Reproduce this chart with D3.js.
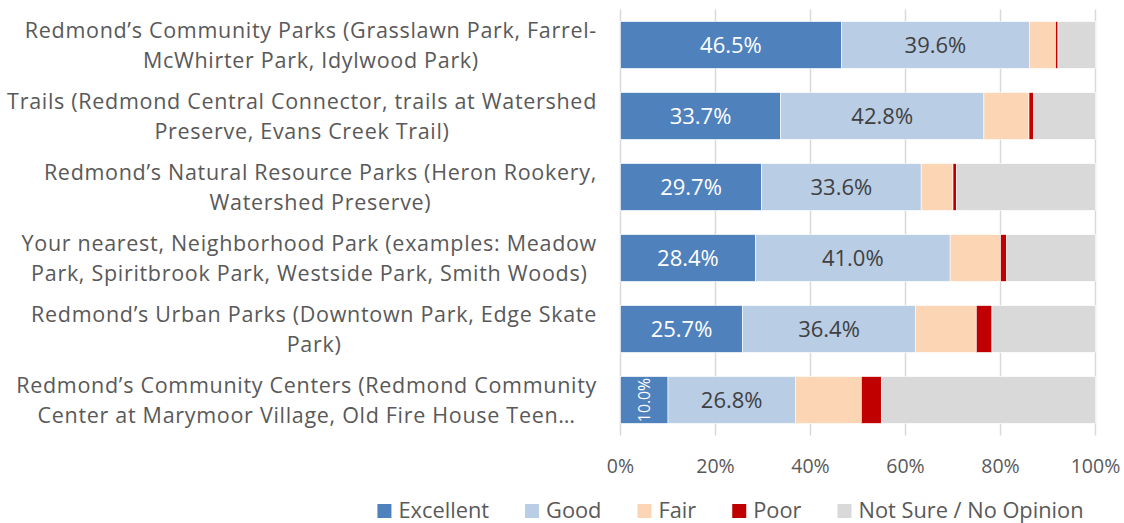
<!DOCTYPE html>
<html>
<head>
<meta charset="utf-8">
<script src="https://cdn.jsdelivr.net/npm/d3@7"></script>
<style>
  html, body { margin: 0; padding: 0; background: #fff; }
  svg { display: block; font-family: "Open Sans", Lato, sans-serif; }
</style>
</head>
<body>
<svg id="chart" width="1124" height="523"></svg>
<script>
// ---- data ----
const categories = [
  "Redmond’s Community Parks (Grasslawn Park, Farrel-\nMcWhirter Park, Idylwood Park)",
  "Trails (Redmond Central Connector, trails at Watershed\nPreserve, Evans Creek Trail)",
  "Redmond’s Natural Resource Parks (Heron Rookery,\nWatershed Preserve)",
  "Your nearest, Neighborhood Park (examples: Meadow\nPark, Spiritbrook Park, Westside Park, Smith Woods)",
  "Redmond’s Urban Parks (Downtown Park, Edge Skate\nPark)",
  "Redmond’s Community Centers (Redmond Community\nCenter at Marymoor Village, Old Fire House Teen…"
];
const seriesNames = ["Excellent", "Good", "Fair", "Poor", "Not Sure / No Opinion"];
const excellent = [46.5, 33.7, 29.7, 28.4, 25.7, 10.0];
const good      = [39.6, 42.8, 33.6, 41.0, 36.4, 26.8];
const fair      = [5.5, 9.5, 6.7, 10.6, 12.8, 13.9];
const poor      = [0.5, 1.0, 0.7, 1.3, 3.3, 4.2];
const notSure   = [7.9, 13.0, 29.3, 18.7, 21.8, 45.1];
const tickValues = [0, 20, 40, 60, 80, 100];
const tickLabels = ["0%", "20%", "40%", "60%", "80%", "100%"];
const colors = ["#4F81BD", "#B9CDE5", "#FCD5B5", "#C00000", "#D9D9D9"];

// ---- build table ----
const seriesVals = [excellent, good, fair, poor, notSure];
const rows = categories.map((c, i) => {
  const r = { cat: c };
  seriesNames.forEach((s, k) => r[s] = seriesVals[k][i]);
  return r;
});
const stacked = d3.stack().keys(seriesNames)(rows);

const svg = d3.select("#chart");
const x = d3.scaleLinear().domain([0, 100]).range([620.5, 1095.5]);
const y = d3.scaleBand().domain(categories).range([9.5, 435.5]).paddingInner(0.34).paddingOuter(0.17);
const color = d3.scaleOrdinal().domain(seriesNames).range(colors);

// gridlines
svg.append("g").selectAll("line").data(tickValues).join("line")
  .attr("x1", d => x(d)).attr("x2", d => x(d))
  .attr("y1", 9.5).attr("y2", 435.5)
  .attr("stroke", "#D9D9D9").attr("stroke-width", 1.5);

// bars
const gS = svg.append("g").selectAll("g").data(stacked).join("g")
  .attr("fill", d => color(d.key));
gS.selectAll("rect").data(d => d).join("rect")
  .attr("x", d => x(d[0]))
  .attr("width", d => x(d[1]) - x(d[0]))
  .attr("y", d => y(d.data.cat))
  .attr("height", y.bandwidth())
  .attr("stroke", "#fff").attr("stroke-width", 0.6);

// value labels (Excellent & Good)
const fmt = d => d.toFixed(1) + "%";
stacked.slice(0, 2).forEach((s, k) => {
  s.forEach(d => {
    const v = d[1] - d[0];
    const cx = (x(d[0]) + x(d[1])) / 2;
    const cy = y(d.data.cat) + y.bandwidth() / 2;
    const fill = k === 0 ? "#FFFFFF" : "#404040";
    if (x(d[1]) - x(d[0]) < 60) {
      svg.append("text")
        .attr("transform", `translate(${cx},${cy}) rotate(-90)`)
        .attr("text-anchor", "middle").attr("dy", "0.36em")
        .attr("font-size", 15.8).attr("fill", fill)
        .text(fmt(v));
    } else {
      svg.append("text")
        .attr("x", cx).attr("y", cy)
        .attr("text-anchor", "middle").attr("dy", "0.36em")
        .attr("font-size", 22).attr("fill", fill)
        .text(fmt(v));
    }
  });
});

// category labels (block right-aligned, lines centered)
const labG = svg.append("g").attr("fill", "#595959").attr("font-size", 21.5)
  .attr("letter-spacing", 0.7);
categories.forEach(c => {
  const lines = c.split("\n");
  const cy = y(c) + y.bandwidth() / 2;
  const texts = lines.map((ln, j) => labG.append("text")
    .attr("y", cy + (j - (lines.length - 1) / 2) * 30)
    .attr("dy", "0.36em").attr("text-anchor", "middle").text(ln));
  const maxW = d3.max(texts, t => t.node().getComputedTextLength());
  texts.forEach(t => t.attr("x", 597 - maxW / 2));
});

// x axis tick labels
svg.append("g").selectAll("text").data(tickValues).join("text")
  .attr("x", d => x(d)).attr("y", 466).attr("dy", "0.36em")
  .attr("text-anchor", "middle").attr("font-size", 19.5).attr("fill", "#595959")
  .text((d, i) => tickLabels[i]);

// legend
const leg = svg.append("g");
let lx = 0;
seriesNames.forEach((s, k) => {
  const g = leg.append("g").attr("transform", `translate(${lx},0)`);
  g.append("rect").attr("x", 0).attr("y", 504).attr("width", 14).attr("height", 14).attr("fill", colors[k]);
  const t = g.append("text").attr("x", 21).attr("y", 517.5)
    .attr("font-size", 21.8).attr("fill", "#595959").text(s);
  lx += 21 + t.node().getComputedTextLength() + 36;
});
const legW = lx - 36;
leg.attr("transform", `translate(${730.5 - legW / 2},0)`);
</script>
</body>
</html>
